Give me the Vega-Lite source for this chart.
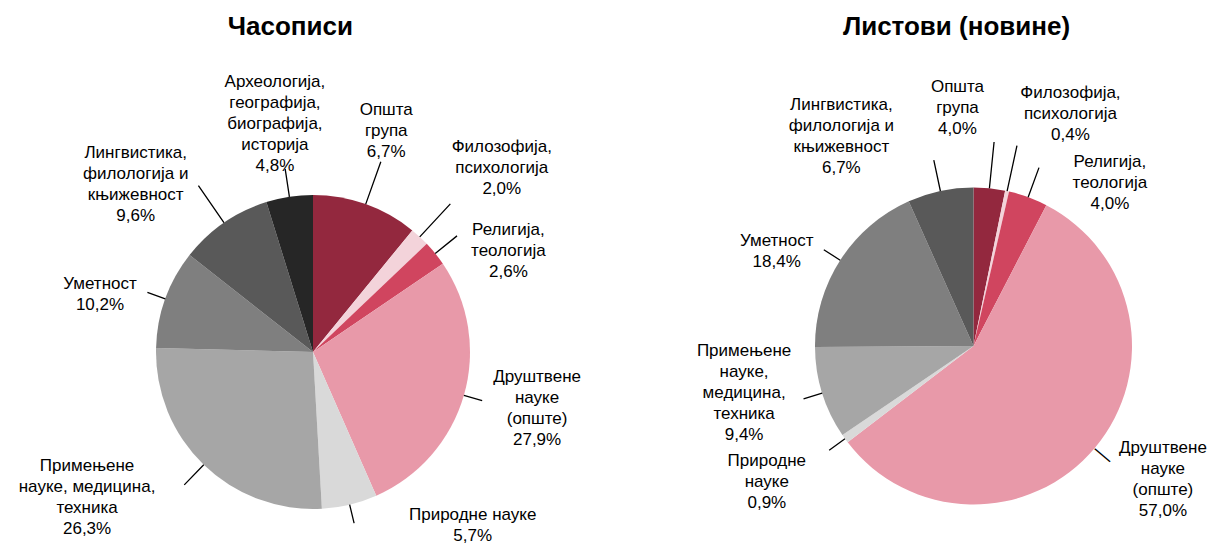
{
  "$schema": "https://vega.github.io/schema/vega-lite/v6.json",
  "width": 1232,
  "height": 545,
  "autosize": {"type": "none"},
  "padding": 0,
  "background": "#ffffff",
  "config": {
    "view": {"stroke": null},
    "text": {"font": "Liberation Sans", "fontSize": 17, "lineHeight": 21, "lineBreak": "\n", "color": "#000000", "align": "center", "baseline": "middle"}
  },
  "datasets": {
    "casopisi": [
      {"chart": "Часописи", "key": "opsta", "idx": 1, "category": "Општа група", "value": 10.9, "label": "Општа\nгрупа\n6,7%"},
      {"chart": "Часописи", "key": "filo", "idx": 2, "category": "Филозофија, психологија", "value": 2.0, "label": "Филозофија,\nпсихологија\n2,0%"},
      {"chart": "Часописи", "key": "reli", "idx": 3, "category": "Религија, теологија", "value": 2.6, "label": "Религија,\nтеологија\n2,6%"},
      {"chart": "Часописи", "key": "drus", "idx": 4, "category": "Друштвене науке (опште)", "value": 27.9, "label": "Друштвене\nнауке\n(опште)\n27,9%"},
      {"chart": "Часописи", "key": "prir", "idx": 5, "category": "Природне науке", "value": 5.7, "label": "Природне  науке\n5,7%"},
      {"chart": "Часописи", "key": "prim", "idx": 6, "category": "Примењене науке, медицина, техника", "value": 26.3, "label": "Примењене\nнауке, медицина,\nтехника\n26,3%"},
      {"chart": "Часописи", "key": "umet", "idx": 7, "category": "Уметност", "value": 10.2, "label": "Уметност\n10,2%"},
      {"chart": "Часописи", "key": "ling", "idx": 8, "category": "Лингвистика, филологија и књижевност", "value": 9.6, "label": "Лингвистика,\nфилологија  и\nкњижевност\n9,6%"},
      {"chart": "Часописи", "key": "arhe", "idx": 9, "category": "Археологија, географија, биографија, историја", "value": 4.8, "label": "Археологија,\nгеографија,\nбиографија,\nисторија\n4,8%"}
    ],
    "listovi": [
      {"chart": "Листови (новине)", "key": "opsta", "idx": 1, "category": "Општа група", "value": 3.2, "label": "Општа\nгрупа\n4,0%"},
      {"chart": "Листови (новине)", "key": "filo", "idx": 2, "category": "Филозофија, психологија", "value": 0.4, "label": "Филозофија,\nпсихологија\n0,4%"},
      {"chart": "Листови (новине)", "key": "reli", "idx": 3, "category": "Религија, теологија", "value": 4.0, "label": "Религија,\nтеологија\n4,0%"},
      {"chart": "Листови (новине)", "key": "drus", "idx": 4, "category": "Друштвене науке (опште)", "value": 57.0, "label": "Друштвене\nнауке\n(опште)\n57,0%"},
      {"chart": "Листови (новине)", "key": "prir", "idx": 5, "category": "Природне науке", "value": 0.9, "label": "Природне\nнауке\n0,9%"},
      {"chart": "Листови (новине)", "key": "prim", "idx": 6, "category": "Примењене науке, медицина, техника", "value": 9.4, "label": "Примењене\nнауке,\nмедицина,\nтехника\n9,4%"},
      {"chart": "Листови (новине)", "key": "umet", "idx": 7, "category": "Уметност", "value": 18.4, "label": "Уметност\n18,4%"},
      {"chart": "Листови (новине)", "key": "ling", "idx": 8, "category": "Лингвистика, филологија и књижевност", "value": 6.7, "label": "Лингвистика,\nфилологија  и\nкњижевност\n6,7%"}
    ],
    "titles": [
      {"chart": "Часописи"},
      {"chart": "Листови (новине)"}
    ]
  },
  "encoding": {
    "x": {"field": "chart", "type": "nominal", "axis": null, "scale": {"type": "point", "domain": ["Часописи", "Листови (новине)"], "range": [313, 973.5], "padding": 0}},
    "y": {"field": "chart", "type": "nominal", "axis": null, "scale": {"type": "point", "domain": ["Часописи", "Листови (новине)"], "range": [352, 346], "padding": 0}}
  },
  "layer": [
    {
      "data": {"name": "casopisi"},
      "encoding": {
        "theta": {"field": "value", "type": "quantitative", "stack": true},
        "order": {"field": "idx", "type": "quantitative"},
        "detail": {"field": "key", "type": "nominal"}
      },
      "layer": [
        {
          "mark": {"type": "arc", "radius": 157},
          "encoding": {
            "color": {"field": "key", "type": "nominal", "legend": null, "scale": {"domain": ["opsta", "filo", "reli", "drus", "prir", "prim", "umet", "ling", "arhe"], "range": ["#93283E", "#F3D3DA", "#D0455F", "#E899A9", "#D9D9D9", "#A6A6A6", "#7F7F7F", "#595959", "#262626"]}}
          }
        },
        {
          "mark": {"type": "arc", "radius": 176, "radius2": 157, "padAngle": 3, "stroke": "#000000", "strokeWidth": 1.3, "fillOpacity": 0},
          "encoding": {"strokeOpacity": {"condition": {"test": "indexof(['drus','prir','umet'], datum.key) >= 0", "value": 1}, "value": 0}}
        },
        {
          "mark": {"type": "arc", "radius": 185, "radius2": 157, "padAngle": 3, "stroke": "#000000", "strokeWidth": 1.3, "fillOpacity": 0},
          "encoding": {"strokeOpacity": {"condition": {"test": "indexof(['reli','prim','arhe'], datum.key) >= 0", "value": 1}, "value": 0}}
        },
        {
          "mark": {"type": "arc", "radius": 202, "radius2": 157, "padAngle": 3, "stroke": "#000000", "strokeWidth": 1.3, "fillOpacity": 0},
          "encoding": {"strokeOpacity": {"condition": {"test": "indexof(['opsta','filo','ling'], datum.key) >= 0", "value": 1}, "value": 0}}
        },
        {"mark": {"type": "text", "radius": 230, "dx": -4, "dy": -25}, "encoding": {"text": {"condition": {"test": "datum.key === 'opsta'", "field": "label"}, "value": ""}}},
        {"mark": {"type": "text", "radius": 260, "dx": 12, "dy": -14}, "encoding": {"text": {"condition": {"test": "datum.key === 'filo'", "field": "label"}, "value": ""}}},
        {"mark": {"type": "text", "radius": 215, "dx": 28, "dy": 13}, "encoding": {"text": {"condition": {"test": "datum.key === 'reli'", "field": "label"}, "value": ""}}},
        {"mark": {"type": "text", "radius": 230, "dx": 3, "dy": -38}, "encoding": {"text": {"condition": {"test": "datum.key === 'drus'", "field": "label"}, "value": ""}}},
        {"mark": {"type": "text", "radius": 230, "dx": 106, "dy": -61}, "encoding": {"text": {"condition": {"test": "datum.key === 'prir'", "field": "label"}, "value": ""}}},
        {"mark": {"type": "text", "radius": 260, "dx": -45, "dy": -72.5}, "encoding": {"text": {"condition": {"test": "datum.key === 'prim'", "field": "label"}, "value": ""}}},
        {"mark": {"type": "text", "radius": 220, "dx": -6, "dy": 7}, "encoding": {"text": {"condition": {"test": "datum.key === 'umet'", "field": "label"}, "value": ""}}},
        {"mark": {"type": "text", "radius": 235, "dx": -44, "dy": -5}, "encoding": {"text": {"condition": {"test": "datum.key === 'ling'", "field": "label"}, "value": ""}}},
        {"mark": {"type": "text", "radius": 230, "dx": -3.5, "dy": -43}, "encoding": {"text": {"condition": {"test": "datum.key === 'arhe'", "field": "label"}, "value": ""}}}
      ]
    },
    {
      "data": {"name": "listovi"},
      "encoding": {
        "theta": {"field": "value", "type": "quantitative", "stack": true},
        "order": {"field": "idx", "type": "quantitative"},
        "detail": {"field": "key", "type": "nominal"}
      },
      "layer": [
        {
          "mark": {"type": "arc", "radius": 158.5},
          "encoding": {
            "color": {"field": "key", "type": "nominal", "legend": null}
          }
        },
        {
          "mark": {"type": "arc", "radius": 178, "radius2": 158.5, "padAngle": 3, "stroke": "#000000", "strokeWidth": 1.3, "fillOpacity": 0},
          "encoding": {"strokeOpacity": {"condition": {"test": "indexof(['prir','prim','umet'], datum.key) >= 0", "value": 1}, "value": 0}}
        },
        {
          "mark": {"type": "arc", "radius": 190, "radius2": 158.5, "padAngle": 3, "stroke": "#000000", "strokeWidth": 1.3, "fillOpacity": 0},
          "encoding": {"strokeOpacity": {"condition": {"test": "indexof(['reli','ling'], datum.key) >= 0", "value": 1}, "value": 0}}
        },
        {
          "mark": {"type": "arc", "radius": 205, "radius2": 158.5, "padAngle": 3, "stroke": "#000000", "strokeWidth": 1.3, "fillOpacity": 0},
          "encoding": {"strokeOpacity": {"condition": {"test": "indexof(['opsta','filo'], datum.key) >= 0", "value": 1}, "value": 0}}
        },
        {"mark": {"type": "text", "radius": 169, "angle": 40, "fontSize": 20}, "encoding": {"text": {"condition": {"test": "datum.key === 'drus'", "value": "—"}, "value": ""}}},
        {"mark": {"type": "text", "radius": 235, "dx": -39.6, "dy": -25.2}, "encoding": {"text": {"condition": {"test": "datum.key === 'opsta'", "field": "label"}, "value": ""}}},
        {"mark": {"type": "text", "radius": 245, "dx": 45, "dy": -14}, "encoding": {"text": {"condition": {"test": "datum.key === 'filo'", "field": "label"}, "value": ""}}},
        {"mark": {"type": "text", "radius": 210, "dx": 64, "dy": 13.5}, "encoding": {"text": {"condition": {"test": "datum.key === 'reli'", "field": "label"}, "value": ""}}},
        {"mark": {"type": "text", "radius": 232, "dx": 11.6, "dy": -47.5}, "encoding": {"text": {"condition": {"test": "datum.key === 'drus'", "field": "label"}, "value": ""}}},
        {"mark": {"type": "text", "radius": 245, "dx": -8, "dy": -28}, "encoding": {"text": {"condition": {"test": "datum.key === 'prir'", "field": "label"}, "value": ""}}},
        {"mark": {"type": "text", "radius": 235, "dx": -5, "dy": -65}, "encoding": {"text": {"condition": {"test": "datum.key === 'prim'", "field": "label"}, "value": ""}}},
        {"mark": {"type": "text", "radius": 215, "dx": -16, "dy": 11.5}, "encoding": {"text": {"condition": {"test": "datum.key === 'umet'", "field": "label"}, "value": ""}}},
        {"mark": {"type": "text", "radius": 240, "dx": -82, "dy": -6}, "encoding": {"text": {"condition": {"test": "datum.key === 'ling'", "field": "label"}, "value": ""}}}
      ]
    },
    {
      "data": {"name": "titles"},
      "transform": [{"filter": "datum.chart === 'Часописи'"}],
      "mark": {"type": "text", "theta": 0, "radius": 317, "dx": -22.7, "baseline": "alphabetic", "fontSize": 26, "fontWeight": "bold"},
      "encoding": {"text": {"field": "chart", "type": "nominal"}}
    },
    {
      "data": {"name": "titles"},
      "transform": [{"filter": "datum.chart === 'Листови (новине)'"}],
      "mark": {"type": "text", "theta": 0, "radius": 311, "dx": -17, "baseline": "alphabetic", "fontSize": 26, "fontWeight": "bold"},
      "encoding": {"text": {"field": "chart", "type": "nominal"}}
    }
  ]
}
